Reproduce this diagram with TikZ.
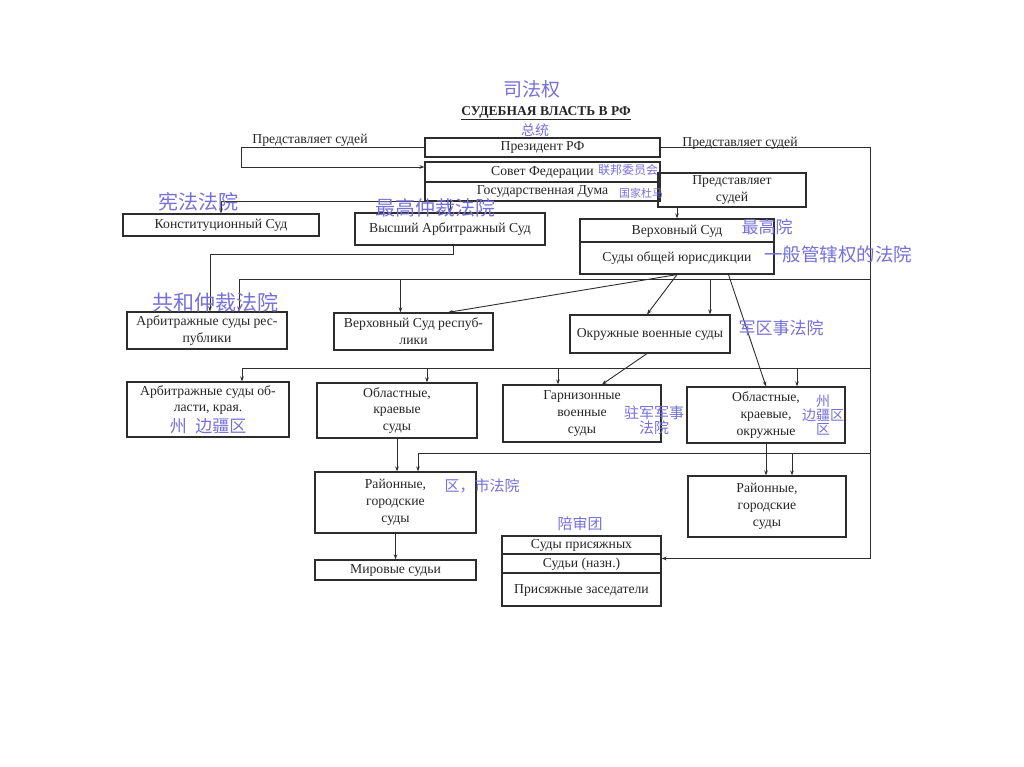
\documentclass[tikz,border=0pt]{standalone}
\usepackage{fontspec}
\setmainfont{Liberation Serif}
\newfontfamily\hwfont{Noto Sans CJK SC}
\usetikzlibrary{arrows.meta}
\definecolor{inkblue}{RGB}{118,112,218}
\definecolor{scanline}{RGB}{45,45,45}

\tikzset{
  court/.style={draw=scanline, line width=1.2pt, align=center, inner sep=1pt,
    font=\fontsize{13.7}{16.8}\selectfont, text=black!85},
  oneline/.style={text height=9pt, text depth=2pt},
  lbl/.style={inner sep=1pt, font=\fontsize{13.7}{16.8}\selectfont, text=black!85},
  link/.style={draw=scanline, line width=0.9pt},
  arr/.style={link, -{Stealth[length=5pt,width=3.6pt]}},
  hw/.style={text=inkblue, inner sep=0pt, align=center,
    font=\hwfont\fontsize{#1}{#1}\selectfont},
}

\begin{document}
\begin{tikzpicture}[x=1pt,y=-1pt]
    \useasboundingbox (0,0) rectangle (1024,767);
    \fill[white] (0,0) rectangle (1024,767);
    % title
    \node[font=\bfseries\fontsize{13.5}{15}\selectfont, text=black!85] (title) at (546,113) {\underline{СУДЕБНАЯ ВЛАСТЬ В РФ}};
    \node[lbl] (repL) at (310,140) {Представляет судей};
    \node[lbl] (repR) at (740,143) {Представляет судей};
    % top level
    \node[court, minimum width=148, minimum height=34] (pred) at (732,190) {Представляет\\судей};
    \node[court, oneline, minimum width=235, minimum height=19] (pres) at (542.5,147.5) {Президент РФ};
    \node[court, oneline, minimum width=235, minimum height=20] (sovfed) at (542.5,172) {Совет Федерации};
    \node[court, oneline, minimum width=235, minimum height=19] (duma) at (542.5,191.5) {Государственная Дума};
    % supreme courts
    \node[court, oneline, minimum width=196, minimum height=22] (ks) at (221,225) {Конституционный Суд};
    \node[court, oneline, minimum width=190, minimum height=32] (vas) at (450,229) {Высший Арбитражный Суд};
    \node[court, oneline, minimum width=194, minimum height=23] (vs) at (677,230.5) {Верховный Суд};
    \node[court, oneline, minimum width=194, minimum height=32] (sojur) at (677,258) {Суды общей юрисдикции};
    % second row
    \node[court, minimum width=160, minimum height=37] (asr) at (207,330.5) {Арбитражные суды рес-\\публики};
    \node[court, minimum width=159, minimum height=37] (vsr) at (413.5,331.5) {Верховный Суд респуб-\\лики};
    \node[court, oneline, minimum width=160, minimum height=38] (ovs) at (650,334) {Окружные военные суды};
    % third row
    \node[court, minimum width=162, minimum height=55] (aso) at (208,409.5) {Арбитражные суды об-\\ласти, края.\\\strut};
    \node[court, minimum width=160, minimum height=55] (ok) at (397,410.5) {Областные,\\краевые\\суды};
    \node[court, minimum width=158, minimum height=57] (gvs) at (582,413.5) {Гарнизонные\\военные\\суды};
    \node[court, minimum width=158, minimum height=56] (ok3) at (766,415) {Областные,\\краевые,\\окружные};
    % fourth row
    \node[court, minimum width=161, minimum height=61] (rgs1) at (395.5,502.5) {Районные,\\городские\\суды};
    \node[court, minimum width=158, minimum height=61] (rgs2) at (767,506.5) {Районные,\\городские\\суды};
    \node[court, oneline, minimum width=161, minimum height=20] (mir) at (395.5,570) {Мировые судьи};
    \node[court, oneline, minimum width=159, minimum height=18] (sp) at (581.5,545) {Суды присяжных};
    \node[court, oneline, minimum width=159, minimum height=19] (sn) at (581.5,563.5) {Судьи (назн.)};
    \node[court, oneline, minimum width=159, minimum height=33] (pz) at (581.5,589.5) {Присяжные заседатели};

    % rails and buses
    \coordinate (rail) at (870,150);
    \coordinate (busA) at (870,279);
    \coordinate (busB) at (870,368);
    \coordinate (busC) at (870,453);
    \coordinate (jin) at ([yshift=5]sn.east);
    \draw[arr] (pres.west) -- ++(-183,0) |- ([yshift=5]sovfed.west);
    \draw[arr] (pres.east) -| (rail |- jin) -- (jin);
    \draw[arr] (duma.south west) -| (ks.north);
    \draw[arr] (vas.north |- duma.south) -- (vas.north);
    \draw[arr] (pred.south -| vs.north) -- (vs.north);
    \draw[arr] ([xshift=3]vas.south) -- ++(0,9) -| ([xshift=3]asr.north);
    % bus A
    \coordinate (aASR) at ([xshift=32]asr.north);
    \coordinate (aVSR) at ([xshift=-13]vsr.north);
    \coordinate (aOVS) at ([xshift=60]ovs.north);
    \draw[arr] (busA) -| (aASR);
    \draw[arr] (aVSR |- busA) -- (aVSR);
    \draw[arr] (aOVS |- busA) -- (aOVS);
    \draw[arr] (sojur.south) -- ([xshift=34.5]vsr.north);
    \draw[arr] (sojur.south) -- ([xshift=-3]ovs.north);
    \draw[arr] ([xshift=51.5]sojur.south) -- (ok3.north);
    \draw[arr] ([xshift=-3]ovs.south) -- ([xshift=20]gvs.north);
    % bus B
    \coordinate (bASO) at ([xshift=34]aso.north);
    \coordinate (bOK) at ([xshift=30]ok.north);
    \coordinate (bGVS) at ([xshift=-24]gvs.north);
    \coordinate (bOK3) at ([xshift=31]ok3.north);
    \draw[arr] (busB) -| (bASO);
    \draw[arr] (bOK |- busB) -- (bOK);
    \draw[arr] (bGVS |- busB) -- (bGVS);
    \draw[arr] (bOK3 |- busB) -- (bOK3);
    % bus C
    \coordinate (cRGS1) at ([xshift=22.5]rgs1.north);
    \coordinate (cRGS2) at ([xshift=25]rgs2.north);
    \draw[arr] (busC) -| (cRGS1);
    \draw[arr] (cRGS2 |- busC) -- (cRGS2);
    \draw[arr] (ok.south) -- (ok.south |- rgs1.north);
    \draw[arr] (ok3.south) -- (ok3.south |- rgs2.north);
    \draw[arr] (rgs1.south) -- (mir.north);

    % handwritten notes
    \node[hw=19] (hwTitle) at (532,89) {司法权};
    \node[hw=14] (hwPres) at (535,130) {总统};
    \node[hw=12] (hwSov) at (628,170) {联邦委员会};
    \node[hw=11] (hwDuma) at (641,193) {国家杜马};
    \node[hw=20] (hwKS) at (198,202) {宪法法院};
    \node[hw=20] (hwVAS) at (435,208) {最高仲裁法院};
    \node[hw=17] (hwVS) at (767,227) {最高院};
    \node[hw=18.5] (hwSOJ) at (838,254) {一般管辖权的法院};
    \node[hw=21] (hwASR) at (215,302) {共和仲裁法院};
    \node[hw=17] (hwOVS) at (781,328) {军区事法院};
    \node[hw=17] (hwASO) at (208,426) {州\enspace 边疆区};
    \node[hw=15] (hwGVS) at (654,420) {驻军军事\\法院};
    \node[hw=14] (hwOK3) at (823,415) {州\\边疆区\\区};
    \node[hw=15] (hwRGS) at (482,486) {区，市法院};
    \node[hw=15] (hwJury) at (580,524) {陪审团};
\end{tikzpicture}
\end{document}
